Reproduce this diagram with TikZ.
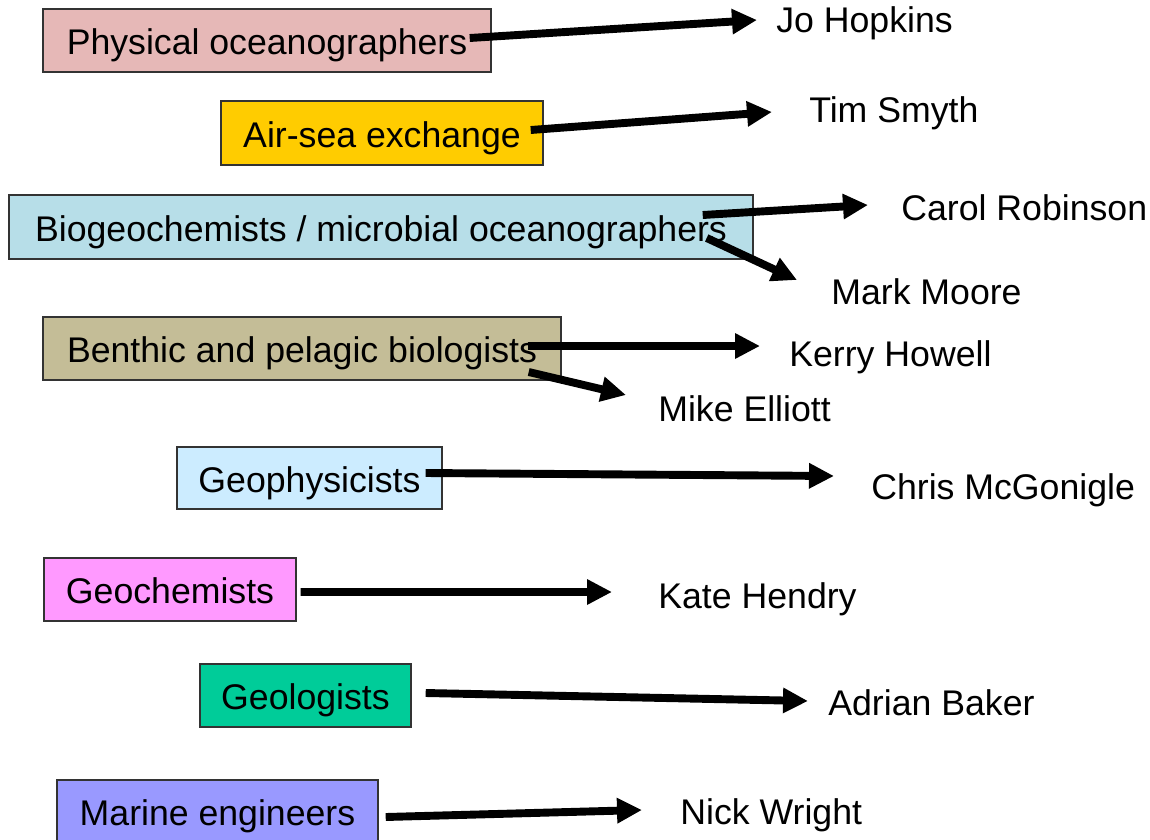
\documentclass[tikz,border=0pt]{standalone}
\usepackage{fontspec}
\setmainfont{Liberation Sans}
\usetikzlibrary{arrows.meta, calc}
\definecolor{physpink}{RGB}{230, 184, 183}
\definecolor{airgold}{RGB}{255, 204, 0}
\definecolor{biogeoblue}{RGB}{183, 222, 232}
\definecolor{benthictan}{RGB}{196, 189, 151}
\definecolor{geophysblue}{RGB}{204, 236, 255}
\definecolor{geochempink}{RGB}{255, 153, 255}
\definecolor{geolgreen}{RGB}{0, 204, 153}
\definecolor{enginviolet}{RGB}{153, 153, 255}

\begin{document}
\begin{tikzpicture}[x=0.02cm, y=-0.02cm,
  grpbox/.style={draw=black!80, line width=0.8pt, inner sep=0pt, text height=21pt, text depth=5pt, font=\fontsize{20.3}{24}\selectfont},
  person/.style={anchor=west, inner sep=0pt, font=\fontsize{20.3}{24}\selectfont},
  link/.style={line width=4.5pt, -{Triangle[length=0.5cm, width=0.48cm]}}]
  \useasboundingbox (0,0) rectangle (1150,839);

  % Groups (left)
  \node[grpbox, fill=physpink, minimum width=448*0.02cm, minimum height=63*0.02cm] (phys) at (267,40.5) {Physical oceanographers};
  \node[grpbox, fill=airgold, minimum width=322*0.02cm, minimum height=64*0.02cm] (airsea) at (382,133) {Air-sea exchange};
  \node[grpbox, fill=biogeoblue, minimum width=744*0.02cm, minimum height=64*0.02cm] (biogeo) at (381,227) {Biogeochemists / microbial oceanographers};
  \node[grpbox, fill=benthictan, minimum width=518*0.02cm, minimum height=63*0.02cm] (benthic) at (302,348.5) {Benthic and pelagic biologists};
  \node[grpbox, fill=geophysblue, minimum width=265*0.02cm, minimum height=62*0.02cm] (geophys) at (309.5,478) {Geophysicists};
  \node[grpbox, fill=geochempink, minimum width=252*0.02cm, minimum height=63*0.02cm] (geochem) at (170,589.5) {Geochemists};
  \node[grpbox, fill=geolgreen, minimum width=211*0.02cm, minimum height=63*0.02cm] (geol) at (305.5,695.5) {Geologists};
  \node[grpbox, fill=enginviolet, minimum width=321*0.02cm, minimum height=63*0.02cm] (engin) at (217.5,811.5) {Marine engineers};

  % People (right)
  \node[person] (jo) at (776,23) {Jo Hopkins};
  \node[person] (tim) at (809,113) {Tim Smyth};
  \node[person] (carol) at (901,208) {Carol Robinson};
  \node[person] (mark) at (831,292) {Mark Moore};
  \node[person] (kerry) at (789,357) {Kerry Howell};
  \node[person] (mike) at (658,409) {Mike Elliott};
  \node[person] (chris) at (871,490) {Chris McGonigle};
  \node[person] (kate) at (658,599) {Kate Hendry};
  \node[person] (adrian) at (828,703) {Adrian Baker};
  \node[person] (nick) at (680,815) {Nick Wright};

  % Links
  \draw[link] ($(phys.east)+(-22,-2.5)$) -- ($(jo.west)+(-19,-3)$);
  \draw[link] ($(airsea.east)+(-13,-3)$) -- ($(tim.west)+(-37,-1)$);
  \draw[link] ($(biogeo.east)+(-51,-12)$) -- ($(carol.west)+(-33,-3)$);
  \draw[link] ($(biogeo.east)+(-47,11)$) -- ($(mark.west)+(-34,-12)$);
  \draw[link] ($(benthic.east)+(-34,-2.5)$) -- ($(kerry.west)+(-29,-11)$);
  \draw[link] ($(benthic.east)+(-33,23.5)$) -- ($(mike.west)+(-32,-14)$);
  \draw[link] ($(geophys.east)+(-17,-5)$) -- ($(chris.west)+(-37,-14)$);
  \draw[link] ($(geochem.east)+(4,2.5)$) -- ($(kate.west)+(-46,-7)$);
  \draw[link] ($(geol.east)+(14,-2.5)$) -- ($(adrian.west)+(-20,-2)$);
  \draw[link] ($(engin.east)+(7,5.5)$) -- ($(nick.west)+(-38,-5)$);
\end{tikzpicture}
\end{document}
